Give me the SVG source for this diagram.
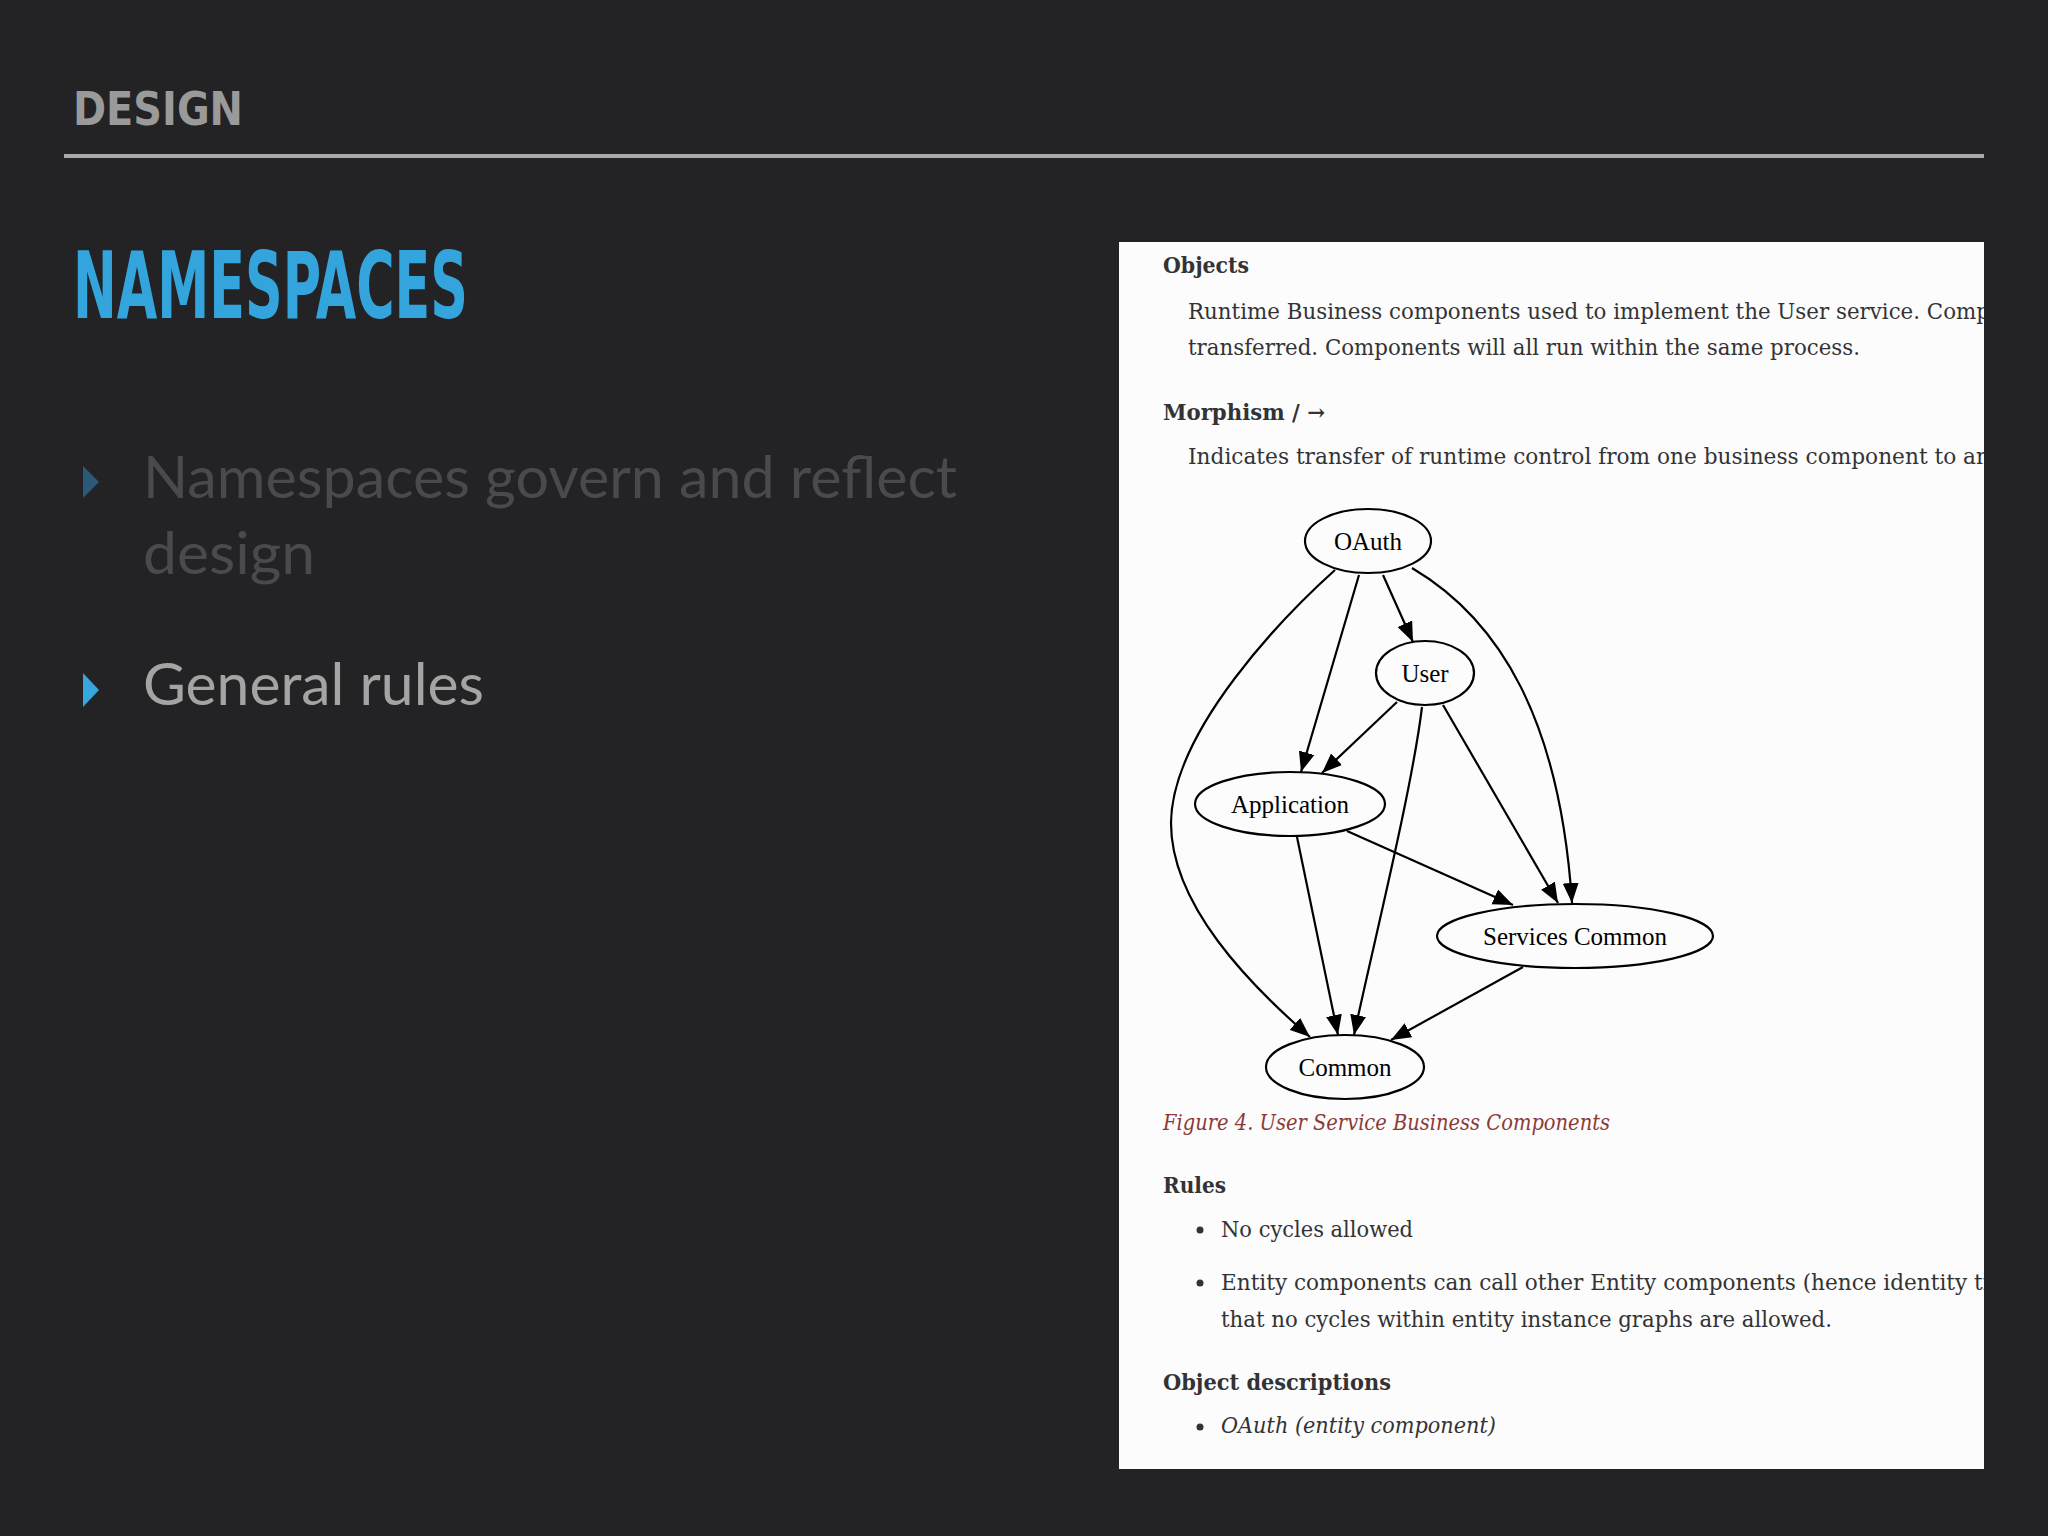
<svg xmlns="http://www.w3.org/2000/svg" width="2048" height="1536" viewBox="0 0 2048 1536">
<style>
.hdr{font-family:"DejaVu Sans Condensed","DejaVu Sans",sans-serif;font-stretch:condensed}
.bul{font-family:Lato,"Open Sans",sans-serif;font-size:58px}
.doc{font-family:"DejaVu Serif","Liberation Serif",serif;font-size:22px;fill:#333335}
.b{font-weight:bold}
.it{font-style:italic}
.node ellipse{fill:none;stroke:#000;stroke-width:2.2}
.node text{font-family:"Liberation Serif","Times New Roman",serif;font-size:25px;fill:#000;text-anchor:middle}
.edges path{fill:none;stroke:#000;stroke-width:2.2}
</style>
<defs>
<marker id="arr" markerUnits="userSpaceOnUse" markerWidth="21" markerHeight="17" viewBox="0 0 21 17" refX="20" refY="8.5" orient="auto">
<path d="M0,0.5 L20,8.5 L0,16.5 Z" fill="#000"/>
</marker>
<clipPath id="pc"><rect x="1119" y="242" width="865" height="1227"/></clipPath>
</defs>
<rect width="2048" height="1536" fill="#232325"/>
<text class="hdr" x="73" y="125" font-size="47" font-weight="bold" fill="#9a9a9a" textLength="170" lengthAdjust="spacingAndGlyphs">DESIGN</text>
<rect x="64" y="154" width="1920" height="4" fill="#a9a9a9"/>
<text class="hdr" x="73" y="318" font-size="92" font-weight="bold" fill="#33a4dc" textLength="395" lengthAdjust="spacingAndGlyphs">NAMESPACES</text>
<polygon points="83,466 99,482 83,498" fill="#2b5a78"/>
<text class="bul" x="143" y="498" fill="#4a4a4c" textLength="814" lengthAdjust="spacingAndGlyphs">Namespaces govern and reflect</text>
<text class="bul" x="143" y="574" fill="#4a4a4c" textLength="172" lengthAdjust="spacingAndGlyphs">design</text>
<polygon points="83,673 99,690 83,707" fill="#35a7dc"/>
<text class="bul" x="143" y="705" fill="#a4a4a4" textLength="341" lengthAdjust="spacingAndGlyphs">General rules</text>
<g id="panel">
<rect x="1119" y="242" width="865" height="1227" fill="#fcfcfd"/>
<g clip-path="url(#pc)">
<text class="doc b" x="1163" y="273" textLength="86" lengthAdjust="spacingAndGlyphs">Objects</text>
<text class="doc" x="1188" y="319" textLength="802" lengthAdjust="spacingAndGlyphs">Runtime Business components used to implement the User service. Comp</text>
<text class="doc" x="1188" y="355" textLength="672" lengthAdjust="spacingAndGlyphs">transferred. Components will all run within the same process.</text>
<text class="doc b" x="1163" y="420" textLength="162" lengthAdjust="spacingAndGlyphs">Morphism / →</text>
<text class="doc" x="1188" y="464" textLength="802" lengthAdjust="spacingAndGlyphs">Indicates transfer of runtime control from one business component to an</text>
<text class="doc it" x="1163" y="1130" style="fill:#8b3a35" textLength="447" lengthAdjust="spacingAndGlyphs">Figure 4. User Service Business Components</text>
<text class="doc b" x="1163" y="1193" textLength="63" lengthAdjust="spacingAndGlyphs">Rules</text>
<circle cx="1200" cy="1230" r="3.5" fill="#333335"/>
<text class="doc" x="1221" y="1237" textLength="192" lengthAdjust="spacingAndGlyphs">No cycles allowed</text>
<circle cx="1200" cy="1283" r="3.5" fill="#333335"/>
<text class="doc" x="1221" y="1290" textLength="772" lengthAdjust="spacingAndGlyphs">Entity components can call other Entity components (hence identity tr</text>
<text class="doc" x="1221" y="1327" textLength="611" lengthAdjust="spacingAndGlyphs">that no cycles within entity instance graphs are allowed.</text>
<text class="doc b" x="1163" y="1390" textLength="228" lengthAdjust="spacingAndGlyphs">Object descriptions</text>
<circle cx="1200" cy="1427" r="3.5" fill="#333335"/>
<text class="doc it" x="1221" y="1433" textLength="275" lengthAdjust="spacingAndGlyphs">OAuth (entity component)</text>
</g>
</g>
<g id="connectors" class="edges">
<path marker-end="url(#arr)" d="M1335,570 C1285,615 1172,730 1171,823 C1171,905 1250,985 1310,1037"/>
<path marker-end="url(#arr)" d="M1359,575 L1301,772"/>
<path marker-end="url(#arr)" d="M1383,575 L1413,642"/>
<path marker-end="url(#arr)" d="M1412,568 C1500,620 1560,720 1572,903"/>
<path marker-end="url(#arr)" d="M1397,702 L1322,773"/>
<path marker-end="url(#arr)" d="M1422,707 C1412,790 1372,950 1354,1035"/>
<path marker-end="url(#arr)" d="M1443,705 L1558,903"/>
<path marker-end="url(#arr)" d="M1347,831 L1513,905"/>
<path marker-end="url(#arr)" d="M1297,837 L1338,1035"/>
<path marker-end="url(#arr)" d="M1523,967 L1391,1040"/>
</g>
<g id="node-oauth" class="node"><ellipse cx="1368" cy="541" rx="63" ry="32"/><text x="1368" y="550">OAuth</text></g>
<g id="node-user" class="node"><ellipse cx="1425" cy="673" rx="49" ry="32"/><text x="1425" y="682">User</text></g>
<g id="node-application" class="node"><ellipse cx="1290" cy="804" rx="95" ry="32"/><text x="1290" y="813">Application</text></g>
<g id="node-services-common" class="node"><ellipse cx="1575" cy="936" rx="138" ry="32"/><text x="1575" y="945">Services Common</text></g>
<g id="node-common" class="node"><ellipse cx="1345" cy="1067" rx="79" ry="32"/><text x="1345" y="1076">Common</text></g>
</svg>
